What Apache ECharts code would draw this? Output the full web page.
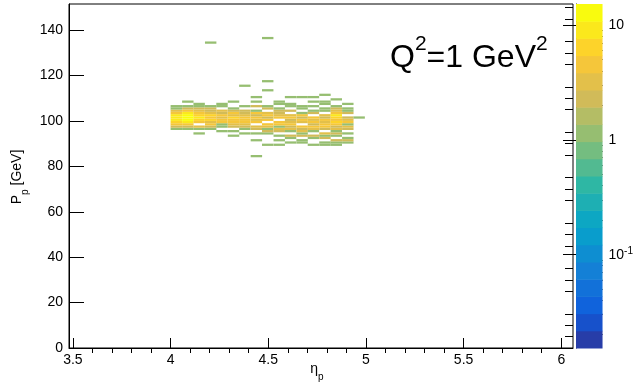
<!DOCTYPE html>
<html><head><meta charset="utf-8">
<script src="https://cdn.jsdelivr.net/npm/echarts@6/dist/echarts.min.js"></script>
<style>html,body{margin:0;padding:0;background:#fff}#c{width:636px;height:383px}</style>
</head><body><div id="c"></div>
<script>
// ---- data ----
const etaLowEdges = [4.000, 4.059, 4.117, 4.176, 4.234, 4.293, 4.351, 4.410, 4.468, 4.527, 4.585, 4.644, 4.702, 4.761, 4.819, 4.878, 4.936];
const etaBinWidth = 0.0585;
const pBinWidth = 1;
// each column: [P lower edge (GeV), entries]
const col00 = [[96,1],[97,2],[98,4],[99,6],[100,9],[101,10],[102,8],[103,5],[104,3],[105,1],[106,1]];
const col01 = [[96,1],[97,2],[98,5],[99,10],[100,14],[101,15],[102,13],[103,9],[104,4],[105,2],[106,1],[108,1]];
const col02 = [[94,1],[96,1],[97,3],[99,5],[100,7],[101,8],[102,6],[103,4],[104,3],[105,2],[106,1],[107,1]];
const col03 = [[96,1],[97,2],[98,4],[99,3],[100,6],[101,5],[102,6],[103,3],[104,2],[105,2],[106,1],[134,1]];
const col04 = [[95,1],[97,1],[98,1],[99,4],[100,5],[101,3],[102,5],[103,2],[104,3],[106,1],[107,1]];
const col05 = [[93,1],[95,1],[97,2],[98,3],[99,5],[100,4],[101,6],[102,3],[103,4],[104,2],[105,1],[108,1]];
const col06 = [[94,1],[96,1],[97,2],[98,3],[99,4],[100,5],[101,4],[102,3],[103,2],[104,2],[106,1],[115,1]];
const col07 = [[84,1],[91,1],[94,1],[96,2],[97,3],[99,4],[100,3],[101,5],[102,2],[103,4],[104,1],[106,2],[108,1],[110,1]];
const col08 = [[89,1],[94,1],[95,2],[96,1],[97,3],[98,5],[100,4],[101,2],[102,4],[103,3],[105,2],[106,1],[113,1],[117,1],[136,1]];
const col09 = [[89,1],[91,1],[93,1],[95,2],[96,3],[97,1],[98,4],[99,5],[101,4],[102,3],[103,2],[104,2],[105,1],[107,1],[108,1]];
const col10 = [[90,1],[92,1],[93,2],[95,1],[96,3],[97,2],[98,5],[99,3],[100,2],[101,4],[102,3],[104,2],[106,1],[107,1],[110,1]];
const col11 = [[90,1],[91,1],[93,2],[94,1],[95,3],[96,2],[97,4],[99,3],[100,5],[101,2],[102,4],[103,1],[105,1],[106,1],[110,1]];
const col12 = [[89,1],[92,1],[93,2],[95,1],[96,3],[97,4],[98,2],[99,5],[100,3],[101,4],[103,2],[104,1],[106,1],[108,1],[110,1]];
const col13 = [[89,1],[90,1],[92,2],[93,1],[94,3],[96,2],[97,4],[98,5],[99,3],[100,4],[101,2],[102,3],[104,1],[105,1],[107,1],[108,1],[111,1]];
const col14 = [[89,1],[90,1],[91,2],[93,1],[94,2],[95,1],[96,3],[97,2],[98,5],[99,7],[100,4],[101,6],[102,8],[103,5],[104,3],[105,2],[106,1],[109,1]];
const col15 = [[90,1],[91,2],[92,1],[94,1],[96,2],[97,3],[98,1],[99,4],[100,3],[101,2],[103,2],[104,1],[105,1],[107,1]];
const col16 = [[101,1]];
const columns = [col00,col01,col02,col03,col04,col05,col06,col07,col08,col09,col10,col11,col12,col13,col14,col15,col16];

const xRange = [3.48, 6.06];
const yRange = [0, 151.5];
const xTickLabels = [3.5, 4, 4.5, 5, 5.5, 6];
const xMinorTicks = [3.6,3.7,3.8,3.9,4.1,4.2,4.3,4.4,4.6,4.7,4.8,4.9,5.1,5.2,5.3,5.4,5.6,5.7,5.8,5.9];
const yTickLabels = [0, 20, 40, 60, 80, 100, 120, 140];
const yMinorTicks = [5,10,15,25,30,35,45,50,55,65,70,75,85,90,95,105,110,115,125,130,135,145,150];
const zRange = [0.0153, 15.3];
const zTickLabels = [0.1, 1, 10];
const zMinorTicks = [0.02,0.03,0.04,0.05,0.06,0.07,0.08,0.09,0.2,0.3,0.4,0.5,0.6,0.7,0.8,0.9,2,3,4,5,6,7,8,9];
const nContours = 20;

// ---- palette (ROOT kBird) ----
const bStops = [0.0,0.125,0.25,0.375,0.5,0.625,0.75,0.875,1.0];
const bR = [0.2082,0.0592,0.0780,0.0232,0.1802,0.5301,0.8186,0.9956,0.9764];
const bG = [0.1664,0.3599,0.5041,0.6419,0.7178,0.7492,0.7328,0.7862,0.9832];
const bB = [0.5293,0.8684,0.8385,0.7914,0.6425,0.4662,0.3499,0.1968,0.0539];
function bird(f){
  let i=0; while(i<bStops.length-2 && f>bStops[i+1]) i++;
  const t=(f-bStops[i])/(bStops[i+1]-bStops[i]);
  const c=a=>Math.round(255*(a[i]+(a[i+1]-a[i])*t));
  return 'rgb('+c(bR)+','+c(bG)+','+c(bB)+')';
}
const lzMin=Math.log10(zRange[0]), lzMax=Math.log10(zRange[1]);
function bandColor(b){ return bird(Math.floor((b+0.99)*255/nContours)/254); }
function colorFor(v){
  let b=Math.floor((Math.log10(v)-lzMin)/(lzMax-lzMin)*nContours);
  b=Math.max(0,Math.min(nContours-1,b));
  return bandColor(b);
}

const cells=[];
columns.forEach((col,i)=>col.forEach(([p,n])=>cells.push([etaLowEdges[i],p,n])));
const bands=[]; for(let i=0;i<nContours;i++) bands.push([i]);

const FONT='"Liberation Sans", Arial, Helvetica, sans-serif';
const chart=echarts.init(document.getElementById('c'),null,{renderer:'canvas'});
chart.setOption({
  animation:false,
  grid:[
    {left:69,right:63,top:4,bottom:35,show:true,borderColor:'#000',borderWidth:1,backgroundColor:'#fff'},
    {left:576,width:28,top:4,bottom:35,show:false}
  ],
  xAxis:[
    {gridIndex:0,type:'value',min:xRange[0],max:xRange[1],
     axisLine:{lineStyle:{color:'#000',width:1}},
     axisTick:{inside:true,length:10,customValues:xTickLabels,lineStyle:{color:'#000'}},
     axisLabel:{customValues:xTickLabels,color:'#000',fontFamily:FONT,fontSize:14,margin:5},
     splitLine:{show:false}},
    {gridIndex:0,type:'value',min:xRange[0],max:xRange[1],
     axisLine:{show:false},
     axisTick:{inside:true,length:5,customValues:xMinorTicks,lineStyle:{color:'#000'}},
     axisLabel:{show:false},splitLine:{show:false}},
    {gridIndex:1,type:'value',min:0,max:1,show:false}
  ],
  yAxis:[
    {gridIndex:0,type:'value',min:yRange[0],max:yRange[1],
     axisLine:{lineStyle:{color:'#000',width:1}},
     axisTick:{inside:true,length:15,customValues:yTickLabels,lineStyle:{color:'#000'}},
     axisLabel:{customValues:yTickLabels,color:'#000',fontFamily:FONT,fontSize:14,margin:6},
     splitLine:{show:false}},
    {gridIndex:0,type:'value',min:yRange[0],max:yRange[1],
     axisLine:{show:false},
     axisTick:{inside:true,length:8,customValues:yMinorTicks,lineStyle:{color:'#000'}},
     axisLabel:{show:false},splitLine:{show:false}},
    {gridIndex:1,type:'value',min:lzMin,max:lzMax,position:'right',
     axisLine:{show:true,lineStyle:{color:'#000',width:1}},
     axisTick:{inside:true,length:13,customValues:zTickLabels.map(Math.log10),lineStyle:{color:'#000'}},
     axisLabel:{customValues:zTickLabels.map(Math.log10),color:'#000',fontFamily:FONT,fontSize:14,margin:6,
       formatter:v=>{const e=Math.round(v); return e===1?'10':e===0?'1':'{b|10}{s|'+e+'}';},
       rich:{b:{fontFamily:FONT,fontSize:14,color:'#000',verticalAlign:'bottom',lineHeight:16},
             s:{fontFamily:FONT,fontSize:10,color:'#000',verticalAlign:'top',lineHeight:16}}},
     splitLine:{show:false}},
    {gridIndex:1,type:'value',min:lzMin,max:lzMax,position:'right',
     axisLine:{show:false},
     axisTick:{inside:true,length:7,customValues:zMinorTicks.map(Math.log10),lineStyle:{color:'#000'}},
     axisLabel:{show:false},splitLine:{show:false}}
  ],
  series:[
    {type:'custom',xAxisIndex:0,yAxisIndex:0,data:cells,encode:{x:0,y:1},clip:true,
     renderItem:(params,api)=>{
       const x0=api.value(0),y0=api.value(1),v=api.value(2);
       const a=api.coord([x0,y0+pBinWidth]), b=api.coord([x0+etaBinWidth,y0]);
       return {type:'rect',shape:{x:a[0],y:a[1],width:b[0]-a[0],height:b[1]-a[1]},style:{fill:colorFor(v)}};
     }},
    {type:'custom',xAxisIndex:2,yAxisIndex:2,data:bands,encode:{y:0},silent:true,
     renderItem:(params,api)=>{
       const i=api.value(0);
       const lo=lzMin+(lzMax-lzMin)*i/nContours, hi=lzMin+(lzMax-lzMin)*(i+1)/nContours;
       const a=api.coord([0,hi]), b=api.coord([1,lo]);
       return {type:'rect',shape:{x:a[0],y:a[1],width:b[0]-a[0],height:b[1]-a[1]+0.5},style:{fill:bandColor(i)}};
     }}
  ],
  graphic:[
    {type:'text',x:20,y:177,rotation:Math.PI/2,z:10,
     style:{text:'{m|P}{s|p}{m| [GeV]}',align:'center',verticalAlign:'middle',
       rich:{m:{fontFamily:FONT,fontSize:14,color:'#000',verticalAlign:'top',lineHeight:20},
             s:{fontFamily:FONT,fontSize:10,color:'#000',verticalAlign:'bottom',lineHeight:20}}}},
    {type:'text',x:317,y:372,z:10,
     style:{text:'{m|η}{s|p}',align:'center',verticalAlign:'middle',
       rich:{m:{fontFamily:FONT,fontSize:14,color:'#000',verticalAlign:'top',lineHeight:20},
             s:{fontFamily:FONT,fontSize:10,color:'#000',verticalAlign:'bottom',lineHeight:20}}}},
    {type:'text',x:390,y:54,z:10,
     style:{text:'{m|Q}{s|2}{m|=1 GeV}{s|2}',align:'left',verticalAlign:'middle',
       rich:{m:{fontFamily:FONT,fontSize:32,color:'#000',verticalAlign:'bottom',lineHeight:40},
             s:{fontFamily:FONT,fontSize:21,color:'#000',verticalAlign:'top',lineHeight:40}}}}
  ]
});
</script></body></html>
